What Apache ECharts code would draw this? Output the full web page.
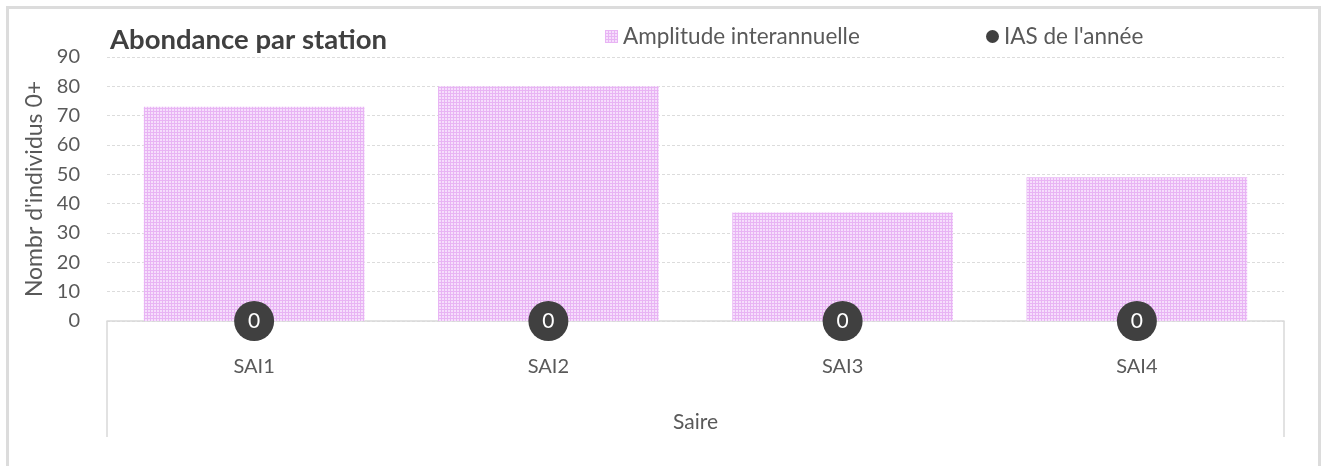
<!DOCTYPE html>
<html>
<head>
<meta charset="utf-8">
<script src="https://cdn.jsdelivr.net/npm/echarts@6/dist/echarts.min.js"></script>
<style>
html,body{margin:0;padding:0;background:#fff;}
#frame{position:absolute;left:6px;top:6px;width:1309px;height:480px;border:3px solid #dcdcdc;box-sizing:content-box;}
#chart{position:absolute;left:0;top:0;width:1321px;height:466px;}
</style>
</head>
<body>
<div id="frame"></div>
<div id="chart"></div>
<script>
const categories = ['SAI1', 'SAI2', 'SAI3', 'SAI4'];
const amplitudeValues = [73, 80, 37, 49];
const iasValues = [0, 0, 0, 0];
const yTicks = { min: 0, max: 90, interval: 10 };
const titleText = 'Abondance par station';
const seriesNames = ['Amplitude interannuelle', "IAS de l'année"];
const yAxisName = "Nombr d'individus 0+";
const xAxisName = 'Saire';

const FONT = 'Lato, "Open Sans", sans-serif';
const G = { left: 107, right: 37, top: 57, bottom: 145 };
const W = 1321, H = 466;

// checkered pattern for the bars
const pc = document.createElement('canvas');
pc.width = 3; pc.height = 3;
const ctx = pc.getContext('2d');
ctx.fillStyle = '#f6defc';
ctx.fillRect(0, 0, 3, 3);
ctx.fillStyle = '#e8b4f4';
ctx.fillRect(0, 0, 3, 1);
ctx.fillRect(0, 0, 1, 3);
const patternFill = { image: pc, repeat: 'repeat' };

const chart = echarts.init(document.getElementById('chart'), null, { renderer: 'canvas' });
const x0 = G.left, x1 = W - G.right, yAxisPix = H - G.bottom;

chart.setOption({
  animation: false,
  textStyle: { fontFamily: FONT },
  title: {
    text: titleText,
    left: 105, top: 21,
    textStyle: { fontFamily: FONT, fontSize: 27.5, fontWeight: 'bold', color: '#404040' }
  },
  legend: [
    {
      data: [seriesNames[0]],
      left: 600, top: 20,
      icon: 'rect', itemWidth: 13, itemHeight: 13, itemGap: 4,
      textStyle: { fontFamily: FONT, fontSize: 22.5, color: '#595959', padding: [0, 0, 0, 0] }
    },
    {
      data: [seriesNames[1]],
      left: 981, top: 20,
      icon: 'circle', itemWidth: 13, itemHeight: 13,
      textStyle: { fontFamily: FONT, fontSize: 22.5, color: '#595959', padding: [0, 0, 0, 0] }
    }
  ],
  grid: { left: G.left, right: G.right, top: G.top, bottom: G.bottom, containLabel: false },
  xAxis: {
    type: 'category',
    data: categories,
    name: xAxisName,
    nameLocation: 'middle',
    nameGap: 91,
    nameTextStyle: { fontFamily: FONT, fontSize: 21, color: '#595959' },
    axisLine: { lineStyle: { color: '#d9d9d9', width: 1.5 } },
    axisTick: { show: false },
    axisLabel: { margin: 36, fontFamily: FONT, fontSize: 20, color: '#595959' }
  },
  yAxis: {
    type: 'value',
    min: yTicks.min, max: yTicks.max, interval: yTicks.interval,
    name: yAxisName,
    nameLocation: 'middle',
    nameGap: 58,
    nameRotate: 90,
    nameTextStyle: { fontFamily: FONT, fontSize: 23, color: '#595959' },
    axisLine: { show: false },
    axisTick: { show: false },
    axisLabel: { margin: 27, fontFamily: FONT, fontSize: 20, color: '#595959' },
    splitLine: { lineStyle: { type: [3, 2], color: '#dcdcdc', width: 1 } }
  },
  series: [
    {
      name: seriesNames[0],
      type: 'bar',
      data: amplitudeValues,
      barWidth: '75%',
      itemStyle: { color: patternFill },
      z: 2
    },
    {
      name: seriesNames[1],
      type: 'scatter',
      data: iasValues,
      symbol: 'circle',
      symbolSize: 40,
      clip: false,
      itemStyle: { color: '#404040', opacity: 1 },
      label: {
        show: true, position: 'inside',
        formatter: p => String(p.value),
        fontFamily: FONT, fontSize: 21, color: '#ffffff'
      },
      z: 5
    }
  ],
  graphic: [
    { type: 'line', shape: { x1: x0, y1: yAxisPix, x2: x0, y2: 437 }, style: { stroke: '#d9d9d9', lineWidth: 1.5 }, z: 1 },
    { type: 'line', shape: { x1: x1, y1: yAxisPix, x2: x1, y2: 437 }, style: { stroke: '#d9d9d9', lineWidth: 1.5 }, z: 1 }
  ]
});
</script>
</body>
</html>
